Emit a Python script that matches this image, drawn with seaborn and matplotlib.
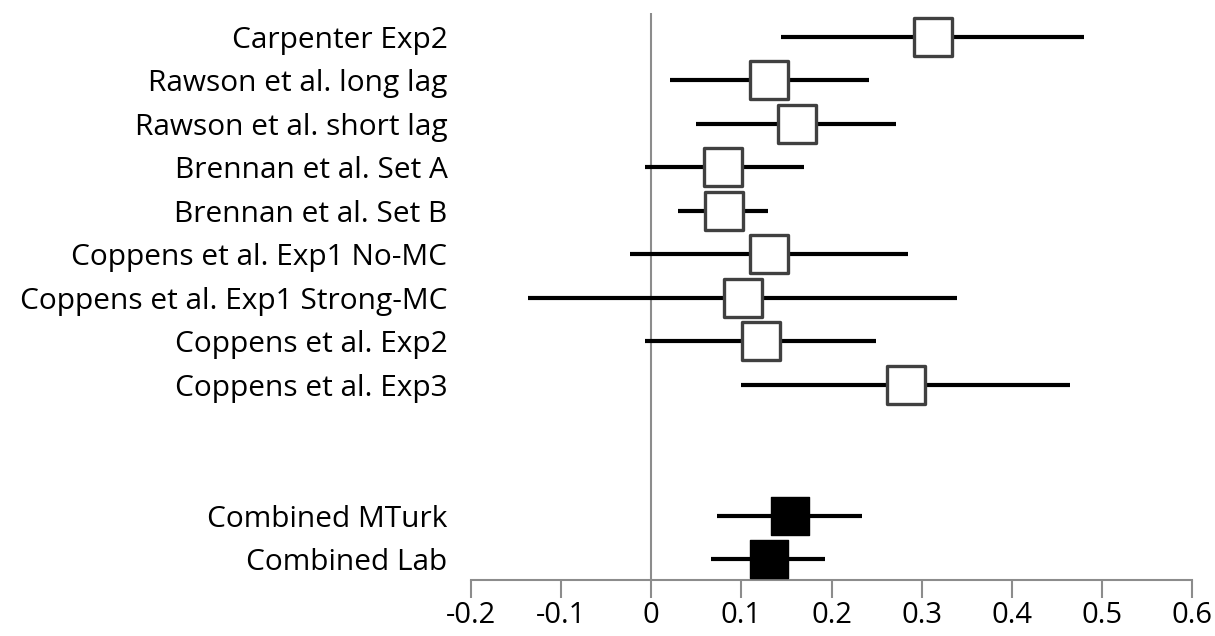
import matplotlib
matplotlib.use('Agg')
import matplotlib.pyplot as plt
import seaborn as sns
import pandas as pd

# studies (top to bottom) and their effect sizes with CI bounds
studies = ['Carpenter Exp2', 'Rawson et al. long lag', 'Rawson et al. short lag',
           'Brennan et al. Set A', 'Brennan et al. Set B', 'Coppens et al. Exp1 No-MC',
           'Coppens et al. Exp1 Strong-MC', 'Coppens et al. Exp2', 'Coppens et al. Exp3']
effects = [0.313, 0.131, 0.162, 0.080, 0.081, 0.131, 0.102, 0.122, 0.282]
ci_low = [0.144, 0.021, 0.050, -0.007, 0.030, -0.024, -0.137, -0.007, 0.100]
ci_high = [0.480, 0.241, 0.271, 0.169, 0.129, 0.285, 0.339, 0.249, 0.464]

combined = ['Combined MTurk', 'Combined Lab']
comb_effects = [0.154, 0.130]
comb_low = [0.073, 0.066]
comb_high = [0.234, 0.193]

x_ticks = [-0.2, -0.1, 0, 0.1, 0.2, 0.3, 0.4, 0.5, 0.6]
x_ticklabels = ['-0.2', '-0.1', '0', '0.1', '0.2', '0.3', '0.4', '0.5', '0.6']

sns.set_style('white')
plt.rcParams['font.family'] = ['Open Sans', 'DejaVu Sans']

df = pd.DataFrame({
    'label': studies + combined,
    'effect': effects + comb_effects,
    'low': ci_low + comb_low,
    'high': ci_high + comb_high,
    'kind': ['study'] * len(studies) + ['combined'] * len(combined),
})
# leave two empty rows between the studies and the combined estimates
df['pos'] = list(range(len(studies))) + [len(studies) + 2 + i for i in range(len(combined))]

fig = plt.figure(figsize=(12.15, 6.36), dpi=100)
ax = fig.add_axes([0.3877, 0.088, 0.5935, 0.892])

# zero reference line
ax.axvline(0, color='#8c8c8c', lw=1.5, zorder=0)

# confidence intervals
ax.hlines(df['pos'], df['low'], df['high'], color='black', lw=3, zorder=1)

# point estimates
study_df = df[df['kind'] == 'study']
comb_df = df[df['kind'] == 'combined']
sns.scatterplot(data=study_df, x='effect', y='pos', marker='s', s=740,
                color='white', edgecolor='#404040', linewidth=2.4, ax=ax, zorder=3)
sns.scatterplot(data=comb_df, x='effect', y='pos', marker='s', s=740,
                color='black', edgecolor='black', linewidth=1, ax=ax, zorder=3)

ax.set_xlim(-0.2, 0.6)
ax.set_ylim(12.48, -0.55)
ax.set_xticks(x_ticks)
ax.set_xticklabels(x_ticklabels)
ax.set_yticks(df['pos'])
ax.set_yticklabels(df['label'])
ax.set_xlabel('')
ax.set_ylabel('')

for side in ['top', 'right', 'left']:
    ax.spines[side].set_visible(False)
ax.spines['bottom'].set_color('#8c8c8c')
ax.spines['bottom'].set_linewidth(1.5)
ax.tick_params(axis='x', direction='out', length=13, width=1.5, color='#8c8c8c',
               labelsize=21, labelcolor='black', pad=2, bottom=True)
ax.tick_params(axis='y', length=0, labelsize=21.5, labelcolor='black', pad=17)

fig.savefig('out.png', dpi=100)
